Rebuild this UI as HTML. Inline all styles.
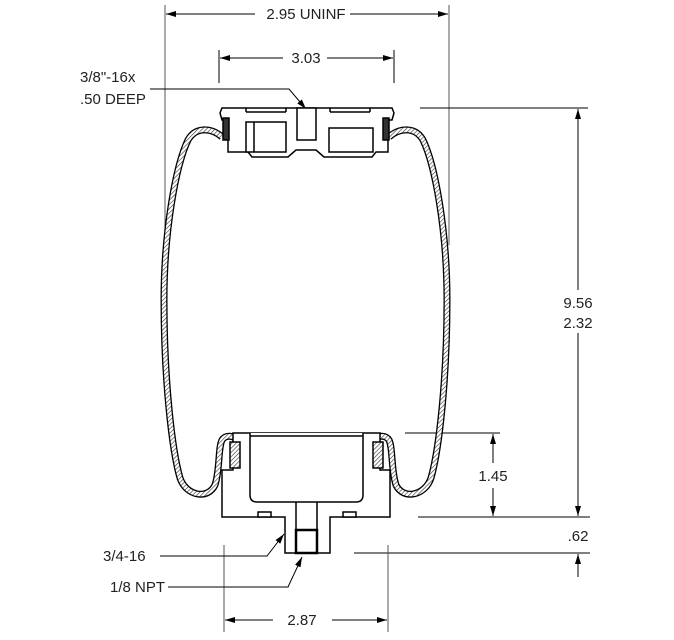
<!DOCTYPE html>
<html><head><meta charset="utf-8"><style>
html,body{margin:0;padding:0;background:#fff}
svg{display:block}
text{font-family:"Liberation Sans",sans-serif;font-size:15px;fill:#222}
</style></head><body>
<svg width="674" height="640" viewBox="0 0 674 640" xmlns="http://www.w3.org/2000/svg">
<defs>
<marker id="a" viewBox="0 0 10 6" refX="10" refY="3" markerWidth="10" markerHeight="6" orient="auto-start-reverse" markerUnits="userSpaceOnUse"><path d="M0,0L10,3L0,6z" fill="#000"/></marker>
<pattern id="h" width="3" height="3" patternUnits="userSpaceOnUse" patternTransform="rotate(45)"><rect width="3" height="3" fill="#fff"/><line x1="0" y1="0" x2="0" y2="3" stroke="#333" stroke-width="1.2"/></pattern>
</defs>
<g stroke="#000" stroke-width="1" fill="none">
<line x1="165" y1="5" x2="165" y2="245" stroke="#555"/>
<line x1="449" y1="5" x2="449" y2="245" stroke="#555"/>
<line x1="166" y1="14" x2="255" y2="14" marker-start="url(#a)"/>
<line x1="350" y1="14" x2="448" y2="14" marker-end="url(#a)"/>
<line x1="219" y1="50" x2="219" y2="83"/>
<line x1="394" y1="50" x2="394" y2="83"/>
<line x1="220" y1="58" x2="283" y2="58" marker-start="url(#a)"/>
<line x1="327" y1="58" x2="393" y2="58" marker-end="url(#a)"/>
<polyline points="150,89 289,89 306,109" marker-end="url(#a)"/>
<line x1="420" y1="108" x2="588" y2="108"/>
<line x1="578" y1="109" x2="578" y2="290" marker-start="url(#a)"/>
<line x1="578" y1="333" x2="578" y2="516" marker-end="url(#a)"/>
<line x1="405" y1="433" x2="500" y2="433"/>
<line x1="493" y1="434" x2="493" y2="463" marker-start="url(#a)"/>
<line x1="493" y1="488" x2="493" y2="516" marker-end="url(#a)"/>
<line x1="418" y1="517" x2="590" y2="517"/>
<line x1="354" y1="553" x2="590" y2="553"/>
<line x1="578" y1="577" x2="578" y2="554" marker-end="url(#a)"/>
<line x1="224" y1="545" x2="224" y2="632" stroke="#555"/>
<line x1="388" y1="545" x2="388" y2="632" stroke="#555"/>
<line x1="225" y1="620" x2="273" y2="620" marker-start="url(#a)"/>
<line x1="332" y1="620" x2="387" y2="620" marker-end="url(#a)"/>
<polyline points="160,556 267,556 284,534" marker-end="url(#a)"/>
<polyline points="168,587 288,587 302,557" marker-end="url(#a)"/>
</g>
<g fill="none">
<path id="bl" d="M222,137 C212,128 196,126 188,140 C176,165 164,230 164,300 C164,380 172,450 180,478 C186,496 208,500 215,485 C220,470 218,448 222,440 C226,434 234,436 238,440"/>
<path id="br" d="M389,137 C399,128 415,126 423,140 C435,165 447,230 447,300 C447,380 439,450 431,478 C425,496 403,500 396,485 C391,470 393,448 389,440 C385,434 377,436 373,440"/>
</g>
<g fill="none" stroke="#000" stroke-width="7"><use href="#bl"/><use href="#br"/></g>
<g fill="none" stroke="url(#h)" stroke-width="4.4"><use href="#bl"/><use href="#br"/></g>
<g stroke="#000" stroke-width="1.5" fill="#fff">
<path d="M222,108 L392,108 L394,113 L392,120 L388,120 L388,152 L376,152 L372,157 L324,157 L316,150 L296,150 L288,157 L252,157 L248,152 L228,152 L228,120 L222,120 L220,113 Z"/>
<rect x="246" y="122" width="40" height="30"/>
<line x1="254" y1="122" x2="254" y2="152"/>
<rect x="329" y="128" width="44" height="24"/>
<rect x="297" y="108" width="19" height="32"/>
<line x1="246" y1="108" x2="246" y2="112"/><line x1="286" y1="108" x2="286" y2="112"/><line x1="246" y1="112" x2="286" y2="112"/>
<line x1="330" y1="112" x2="370" y2="112"/><line x1="330" y1="108" x2="330" y2="112"/><line x1="370" y1="108" x2="370" y2="112"/>
<rect x="223" y="118" width="6" height="22" fill="#333"/>
<rect x="383" y="118" width="6" height="22" fill="#333"/>
</g>
<g stroke="#000" stroke-width="1.5" fill="#fff">
<path d="M233,433 L380,433 L380,470 L390,470 L390,517 L330,517 L330,553 L285,553 L285,517 L222,517 L222,470 L233,470 Z"/>
<path d="M250,433 L250,495 Q250,502 257,502 L356,502 Q363,502 363,495 L363,433"/>
<line x1="250" y1="436" x2="363" y2="436"/>
<rect x="258" y="512" width="13" height="5"/>
<rect x="343" y="512" width="13" height="5"/>
<line x1="296" y1="502" x2="296" y2="553"/><line x1="317" y1="502" x2="317" y2="553"/>
<rect x="296" y="530" width="21" height="23" stroke-width="2.5"/>
<rect x="230" y="442" width="10" height="26" fill="url(#h)"/>
<rect x="373" y="442" width="10" height="26" fill="url(#h)"/>
</g>
<text x="306" y="19" text-anchor="middle">2.95 UNINF</text>
<text x="306" y="63" text-anchor="middle">3.03</text>
<text x="80" y="82">3/8"-16x</text>
<text x="80" y="104">.50 DEEP</text>
<text x="578" y="308" text-anchor="middle">9.56</text>
<text x="578" y="328" text-anchor="middle">2.32</text>
<text x="493" y="481" text-anchor="middle">1.45</text>
<text x="578" y="541" text-anchor="middle">.62</text>
<text x="103" y="561">3/4-16</text>
<text x="110" y="592">1/8  NPT</text>
<text x="302" y="625" text-anchor="middle">2.87</text>
</svg>
</body></html>
